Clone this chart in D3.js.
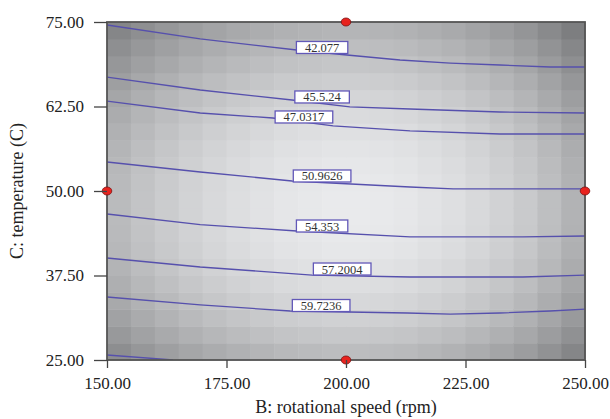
<!DOCTYPE html>
<html><head><meta charset="utf-8">
<script src="https://cdn.jsdelivr.net/npm/d3@7"></script>
<style>body{margin:0;background:#fff}</style>
</head><body><svg id="c" width="610" height="419"></svg>
<script>
// ---- data ----
const xTicks = [150, 175, 200, 225, 250];
const yTicks = [25, 37.5, 50, 62.5, 75];
// grid of the shaded response surface: 20 columns (speed), 20 rows (temperature)
const speedEdges = d3.range(150, 250.01, 5);
const tempEdges = d3.range(25, 75.01, 2.5);
// darkness per speed column (150 -> 250)
const colShade = [47, 38, 30, 23, 17, 12, 8, 4, 2, 0, 0, 1, 3, 7, 11, 17, 24, 32, 43, 55];
// darkness per temperature row (25 -> 75)
const rowShade = [45, 34, 25, 18, 12, 7, 3, 1, 0, 0, 1, 3, 6, 10, 15, 21, 28, 36, 44, 53];
const shadeBase = 233;

const contourLevels = ["42.077", "45.5.24", "47.0317", "50.9626", "54.353", "57.2004", "59.7236", ""];
const contourPoints = [
  [[150,74.56],[169.5,72.49],[189.7,70.86],[200.2,70.12],[211.3,69.38],[221.8,68.93],[232.2,68.64],[242.7,68.34],[250,68.34]],
  [[150,66.86],[169.5,64.94],[188.7,63.46],[200.8,62.43],[213.4,62.13],[232.2,61.69],[250,61.54]],
  [[150,63.31],[169.5,61.54],[184.7,60.80],[197.3,59.62],[213.4,58.88],[232.2,58.43],[250,58.43]],
  [[150,54.29],[169.5,52.81],[188.7,51.48],[213.4,50.59],[222.4,50.30],[250,50.30]],
  [[150,46.60],[169.5,45.04],[189.7,44.08],[213.4,43.20],[237,43.20],[250,43.34]],
  [[150,40.09],[169.5,38.76],[192.9,37.57],[213.4,37.28],[237,37.28],[250,37.57]],
  [[150,34.32],[169.5,33.14],[188.3,32.25],[212.8,31.95],[221.8,31.80],[232.2,31.95],[242.7,32.25],[250,32.54]],
  [[150,25.74],[163.8,25.0]]
];
const labelAt = [[195.0,71.23],[195.0,63.91],[191.2,60.95],[195.0,52.22],[195.0,44.82],[199.2,38.46],[194.8,33.06],null];
const designPoints = [[200,75],[150,50],[250,50],[200,25]];

// ---- chart ----
const svg = d3.select("#c");
const M = {l:107, r:585, t:22, b:360};
const x = d3.scaleLinear().domain([150,250]).range([M.l, M.r]);
const y = d3.scaleLinear().domain([25,75]).range([M.b, M.t]);

const cells = [];
colShade.forEach((cd, i) => rowShade.forEach((rd, j) => cells.push({i, j, g: shadeBase - cd - rd})));
svg.append("g").selectAll("rect").data(cells).join("rect")
  .attr("x", d => x(speedEdges[d.i]))
  .attr("y", d => y(tempEdges[d.j+1]))
  .attr("width", d => x(speedEdges[d.i+1]) - x(speedEdges[d.i]) + 0.5)
  .attr("height", d => y(tempEdges[d.j]) - y(tempEdges[d.j+1]) + 0.5)
  .attr("fill", d => `rgb(${d.g},${d.g+1},${d.g+3})`);

const line = d3.line().x(d => x(d[0])).y(d => y(d[1]));
const clip = svg.append("clipPath").attr("id","pc").append("rect")
  .attr("x", M.l).attr("y", M.t).attr("width", M.r-M.l).attr("height", M.b-M.t);
svg.append("g").attr("clip-path","url(#pc)").selectAll("path").data(contourPoints).join("path")
  .attr("d", line).attr("fill","none").attr("stroke","#5650ad").attr("stroke-width",1.3);

// frame
svg.append("rect").attr("x", M.l).attr("y", M.t).attr("width", M.r-M.l).attr("height", M.b-M.t)
  .attr("fill","none").attr("stroke","#555").attr("stroke-width",1.8);

// labels
const lg = svg.append("g");
contourLevels.forEach((t, k) => {
  if (!labelAt[k]) return;
  const cx = x(labelAt[k][0]), cy = y(labelAt[k][1]);
  const g = lg.append("g");
  const rect = g.append("rect");
  const txt = g.append("text").attr("x", cx).attr("y", cy).attr("dy","0.36em")
    .attr("text-anchor","middle").attr("font-family","'Liberation Serif', serif")
    .attr("font-size", 12.5).attr("fill","#333").text(t);
  const w = txt.node().getComputedTextLength() + 17;
  rect.attr("x", cx - w/2).attr("y", cy - 6).attr("width", w).attr("height", 12)
    .attr("fill","#fff").attr("stroke","#6258b8").attr("stroke-width",1.3);
});

// design points
svg.append("g").selectAll("ellipse").data(designPoints).join("ellipse")
  .attr("cx", d => x(d[0])).attr("cy", d => y(d[1])).attr("rx", 4.8).attr("ry", 4)
  .attr("fill","#e8231e").attr("stroke","#7a1010").attr("stroke-width",0.8);

// axes
const font = "'Liberation Serif', serif";
const ya = svg.append("g").attr("transform",`translate(${M.l},0)`)
  .call(d3.axisLeft(y).tickValues(yTicks).tickFormat(d3.format(".2f")).tickSize(13).tickPadding(10));
const xa = svg.append("g").attr("transform",`translate(0,${M.b})`)
  .call(d3.axisBottom(x).tickValues(xTicks).tickFormat(d3.format(".2f")).tickSize(8).tickPadding(9));
[ya, xa].forEach(a => {
  a.select(".domain").remove();
  a.selectAll(".tick line").attr("stroke","#444").attr("stroke-width",1.3);
  a.selectAll(".tick text").attr("font-family", font).attr("font-size", 17).attr("fill","#222");
});

svg.append("text").attr("x", 346).attr("y", 413).attr("text-anchor","middle")
  .attr("font-family", font).attr("font-size", 18).attr("fill","#222").text("B: rotational speed (rpm)");
svg.append("text").attr("transform","translate(23,191) rotate(-90)").attr("text-anchor","middle")
  .attr("font-family", font).attr("font-size", 18).attr("fill","#222").text("C: temperature (C)");
</script></body></html>
